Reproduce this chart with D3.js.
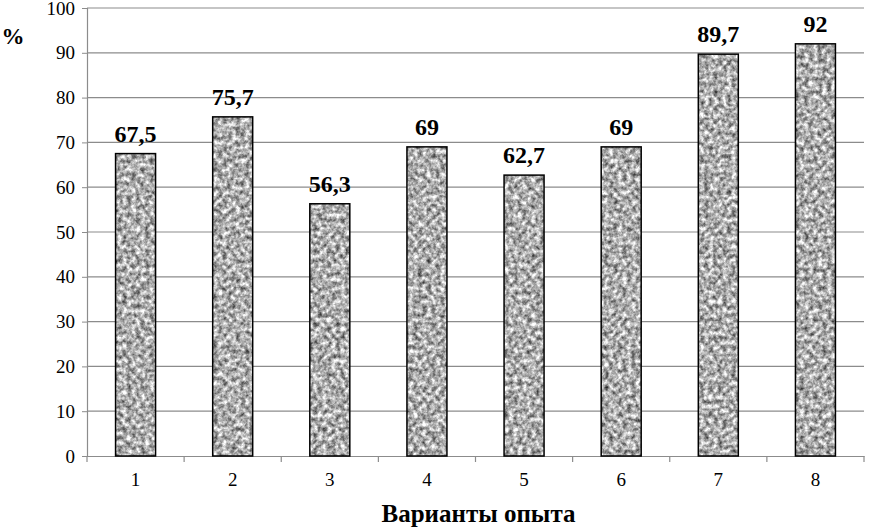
<!DOCTYPE html>
<html lang="ru">
<head>
<meta charset="utf-8">
<title>Варианты опыта</title>
<style>
body { margin: 0; background: #fff; }
svg text { font-family: "Liberation Serif", "Times New Roman", serif; }
</style>
<script src="https://d3js.org/d3.v7.min.js"></script>
</head>
<body>
<div id="chart"></div>
<script>
var categories = ['1', '2', '3', '4', '5', '6', '7', '8'];
var values = [67.5, 75.7, 56.3, 69, 62.7, 69, 89.7, 92];
var valueLabels = ['67,5', '75,7', '56,3', '69', '62,7', '69', '89,7', '92'];
var yTicks = [0, 10, 20, 30, 40, 50, 60, 70, 80, 90, 100];

var W = 869, H = 527;
var m = { left: 87, right: 5, top: 8, bottom: 71 };
var serif = '"Liberation Serif", "Times New Roman", serif';

var svg = d3.select('#chart').append('svg')
  .attr('width', W)
  .attr('height', H)
  .attr('font-family', serif);

// granite texture for bars (noise taken from the alpha channel)
var defs = svg.append('defs');
var f = defs.append('filter').attr('id', 'granite')
  .attr('x', 0).attr('y', 0).attr('width', 1).attr('height', 1)
  .attr('color-interpolation-filters', 'sRGB');
f.append('feTurbulence')
  .attr('type', 'fractalNoise')
  .attr('baseFrequency', 0.22)
  .attr('numOctaves', 3)
  .attr('seed', 5)
  .attr('result', 'noise');
f.append('feColorMatrix')
  .attr('in', 'noise')
  .attr('type', 'matrix')
  .attr('values', '0 0 0 1.2 0.08  0 0 0 1.2 0.08  0 0 0 1.2 0.08  0 0 0 0 1')
  .attr('result', 'gray');
f.append('feComposite')
  .attr('in', 'gray')
  .attr('in2', 'SourceGraphic')
  .attr('operator', 'in');

var x = d3.scaleBand()
  .domain(categories)
  .range([m.left, W - m.right])
  .paddingInner(0)
  .paddingOuter(0);

var y = d3.scaleLinear()
  .domain([0, 100])
  .range([H - m.bottom, m.top]);

// gridlines
svg.append('g')
  .selectAll('line')
  .data(yTicks.filter(function(d) { return d > 0; }))
  .enter().append('line')
  .attr('x1', m.left)
  .attr('x2', W - m.right)
  .attr('y1', function(d) { return y(d); })
  .attr('y2', function(d) { return y(d); })
  .attr('stroke', '#8c8c8c')
  .attr('stroke-width', 1.2);

// y axis
var yAxis = svg.append('g')
  .attr('transform', 'translate(' + m.left + ',0)')
  .call(d3.axisLeft(y).tickValues(yTicks).tickSize(5).tickPadding(7));
yAxis.attr('font-family', serif);
yAxis.select('.domain').attr('stroke', '#8c8c8c').attr('stroke-width', 1.2);
yAxis.selectAll('.tick line').attr('stroke', '#8c8c8c');
yAxis.selectAll('text')
  .attr('font-size', 19)
  .attr('fill', '#000');

// x axis
var xAxis = svg.append('g')
  .attr('transform', 'translate(0,' + y(0) + ')')
  .call(d3.axisBottom(x).tickSize(0).tickPadding(17));
xAxis.attr('font-family', serif);
xAxis.select('.domain').attr('stroke', '#8c8c8c').attr('stroke-width', 1.2);
xAxis.selectAll('text')
  .attr('font-size', 19)
  .attr('fill', '#000');

// category boundary ticks
svg.append('g')
  .selectAll('line')
  .data(categories.concat(['end']))
  .enter().append('line')
  .attr('x1', function(d, i) { return m.left + i * x.step(); })
  .attr('x2', function(d, i) { return m.left + i * x.step(); })
  .attr('y1', y(0))
  .attr('y2', y(0) + 6)
  .attr('stroke', '#8c8c8c')
  .attr('stroke-width', 1.2);

var barW = 40;

// bars
var bars = svg.append('g');
bars.selectAll('rect.fillbar')
  .data(values)
  .enter().append('rect')
  .attr('class', 'fillbar')
  .attr('x', function(d, i) { return x(categories[i]) + x.bandwidth() / 2 - barW / 2; })
  .attr('y', function(d) { return y(d); })
  .attr('width', barW)
  .attr('height', function(d) { return y(0) - y(d); })
  .attr('fill', '#aaa')
  .attr('filter', 'url(#granite)');

bars.selectAll('rect.border')
  .data(values)
  .enter().append('rect')
  .attr('class', 'border')
  .attr('x', function(d, i) { return x(categories[i]) + x.bandwidth() / 2 - barW / 2; })
  .attr('y', function(d) { return y(d); })
  .attr('width', barW)
  .attr('height', function(d) { return y(0) - y(d); })
  .attr('fill', 'none')
  .attr('stroke', '#000')
  .attr('stroke-width', 1.5);

// value labels
svg.append('g')
  .selectAll('text')
  .data(values)
  .enter().append('text')
  .attr('x', function(d, i) { return x(categories[i]) + x.bandwidth() / 2; })
  .attr('y', function(d) { return y(d) - 12; })
  .attr('text-anchor', 'middle')
  .attr('font-size', 24)
  .attr('font-weight', 'bold')
  .text(function(d, i) { return valueLabels[i]; });

// axis titles
svg.append('text')
  .attr('x', 13)
  .attr('y', 44)
  .attr('text-anchor', 'middle')
  .attr('font-size', 23)
  .attr('font-weight', 'bold')
  .text('%');

svg.append('text')
  .attr('x', (m.left + W - m.right) / 2 + 3)
  .attr('y', 522)
  .attr('text-anchor', 'middle')
  .attr('font-size', 25)
  .attr('font-weight', 'bold')
  .text('Варианты опыта');
</script>
</body>
</html>
